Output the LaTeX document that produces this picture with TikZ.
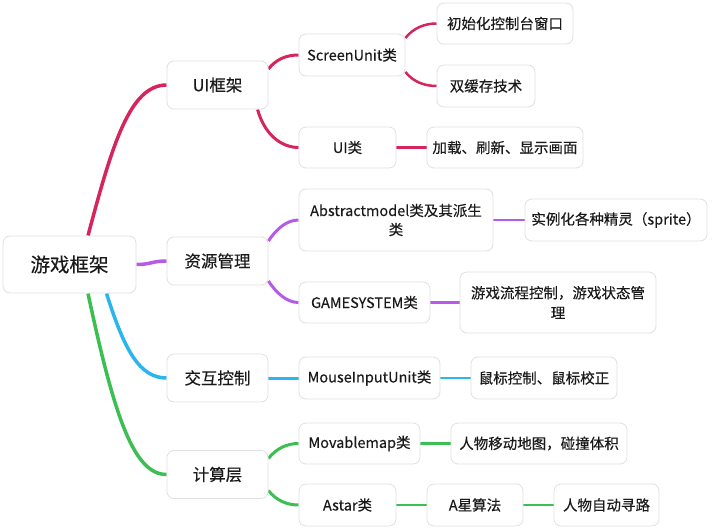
\documentclass[tikz,border=0pt]{standalone}
\usepackage{fontspec}
\setmainfont{Noto Sans CJK SC}[FakeBold=0.3]
\usetikzlibrary{backgrounds}
\definecolor{cred}{HTML}{D6245C}
\definecolor{cpurple}{HTML}{B55BE8}
\definecolor{cblue}{HTML}{2BB5EE}
\definecolor{cgreen}{HTML}{3CBF52}
\definecolor{cborder}{HTML}{E0E0E0}
\definecolor{ctext}{HTML}{1A1A1A}
\tikzset{
  box/.style={draw=cborder, line width=0.8pt, rounded corners=7pt, fill=white,
    inner sep=0pt, align=center, text=ctext},
  rootbox/.style={box, font=\fontsize{19.5}{23}\selectfont},
  lonebox/.style={box, font=\fontsize{16.5}{20}\selectfont},
  ltwobox/.style={box, font=\fontsize{14.5}{19}\selectfont},
  wa/.style={line width=3.5pt},
  wb/.style={line width=3pt},
  wc/.style={line width=2.5pt},
  wd/.style={line width=1.8pt},
}
\begin{document}
\begin{tikzpicture}[x=1pt,y=-1pt]
\useasboundingbox (0,0) rectangle (712,530);
% root
\node[rootbox, minimum width=133pt, minimum height=57pt] (root) at (69.5,264.5) {游戏框架};
% level 1
\node[lonebox, minimum width=101pt, minimum height=48pt] (ui) at (217.5,85) {UI框架};
\node[lonebox, minimum width=101pt, minimum height=48pt] (zy) at (217.5,261) {资源管理};
\node[lonebox, minimum width=101pt, minimum height=48pt] (jh) at (217.5,378) {交互控制};
\node[lonebox, minimum width=101pt, minimum height=48pt] (js) at (217.5,474.5) {计算层};
% level 2
\node[ltwobox, minimum width=106pt, minimum height=42pt] (su) at (352,55) {ScreenUnit类};
\node[ltwobox, minimum width=97pt, minimum height=41pt] (uic) at (347.5,147.5) {UI类};
\node[ltwobox, minimum width=194pt, minimum height=62pt] (am) at (396,220) {Abstractmodel类及其派生\\类};
\node[ltwobox, minimum width=131pt, minimum height=41pt] (gs) at (364.5,302.5) {GAMESYSTEM类};
\node[ltwobox, minimum width=141pt, minimum height=42pt] (mi) at (369.5,378) {MouseInputUnit类};
\node[ltwobox, minimum width=121pt, minimum height=41pt] (mm) at (359.5,443.5) {Movablemap类};
\node[ltwobox, minimum width=97pt, minimum height=42pt] (as) at (347.5,505) {Astar类};
% level 3
\node[ltwobox, minimum width=136pt, minimum height=41pt] (cs) at (505,23.5) {初始化控制台窗口};
\node[ltwobox, minimum width=98pt, minimum height=42pt] (sh) at (486,86) {双缓存技术};
\node[ltwobox, minimum width=156pt, minimum height=41pt] (jz) at (505,147.5) {加载、刷新、显示画面};
\node[ltwobox, minimum width=182pt, minimum height=42pt] (sl) at (616,220) {实例化各种精灵（sprite）};
\node[ltwobox, font=\fontsize{14.5}{20}\selectfont, minimum width=196pt, minimum height=61pt] (lc) at (558,302.5) {游戏流程控制，游戏状态管\\理};
\node[ltwobox, minimum width=146pt, minimum height=42pt] (sb) at (544,378) {鼠标控制、鼠标校正};
\node[ltwobox, minimum width=176pt, minimum height=41pt] (rw) at (539,443.5) {人物移动地图，碰撞体积};
\node[ltwobox, minimum width=96pt, minimum height=42pt] (ax) at (475,505) {A星算法};
% level 4
\node[ltwobox, minimum width=105pt, minimum height=42pt] (zd) at (606.5,505) {人物自动寻路};
\begin{scope}[on background layer]
% root -> level 1
\draw[cred, wa] ([xshift=18.5pt]root.north) .. controls +(24,-90) and +(-37,0) .. (ui.west);
\draw[cpurple, wa] (root.east) .. controls +(15,0) and +(-15,0) .. (zy.west);
\draw[cblue, wa] ([xshift=37pt]root.south) .. controls +(18,57) and +(-27,0) .. (jh.west);
\draw[cgreen, wa] ([xshift=18.5pt]root.south) .. controls +(27,127) and +(-32,0) .. (js.west);
% level 1 -> level 2
\draw[cred, wb] ([yshift=16pt]ui.east) .. controls +(8,-10) and +(-12,0) .. (su.west);
\draw[cred, wb] ([xshift=40pt]ui.south) .. controls +(8,28) and +(-15,0) .. (uic.west);
\draw[cpurple, wb] ([yshift=20pt]zy.east) .. controls +(8,-12) and +(-12,0) .. (am.west);
\draw[cpurple, wb] ([yshift=-20pt]zy.east) .. controls +(8,12) and +(-12,0) .. (gs.west);
\draw[cblue, wb] (jh.east) -- (mi.west);
\draw[cgreen, wb] ([yshift=16pt]js.east) .. controls +(8,-10) and +(-12,0) .. (mm.west);
\draw[cgreen, wb] ([yshift=-16pt]js.east) .. controls +(8,10) and +(-12,0) .. (as.west);
% level 2 -> level 3
\draw[cred, wc] ([yshift=17pt]su.east) .. controls +(8,-10) and +(-12,0) .. (cs.west);
\draw[cred, wc] ([yshift=-17pt]su.east) .. controls +(8,10) and +(-12,0) .. (sh.west);
\draw[cred, wc] (uic.east) -- (jz.west);
\draw[cpurple, wc] (am.east) -- (sl.west);
\draw[cpurple, wc] (gs.east) -- (lc.west);
\draw[cblue, wc] (mi.east) -- (sb.west);
\draw[cgreen, wc] (mm.east) -- (rw.west);
\draw[cgreen, wc] (as.east) -- (ax.west);
% level 3 -> level 4
\draw[cgreen, wd] (ax.east) -- (zd.west);
\end{scope}
\end{tikzpicture}
\end{document}
